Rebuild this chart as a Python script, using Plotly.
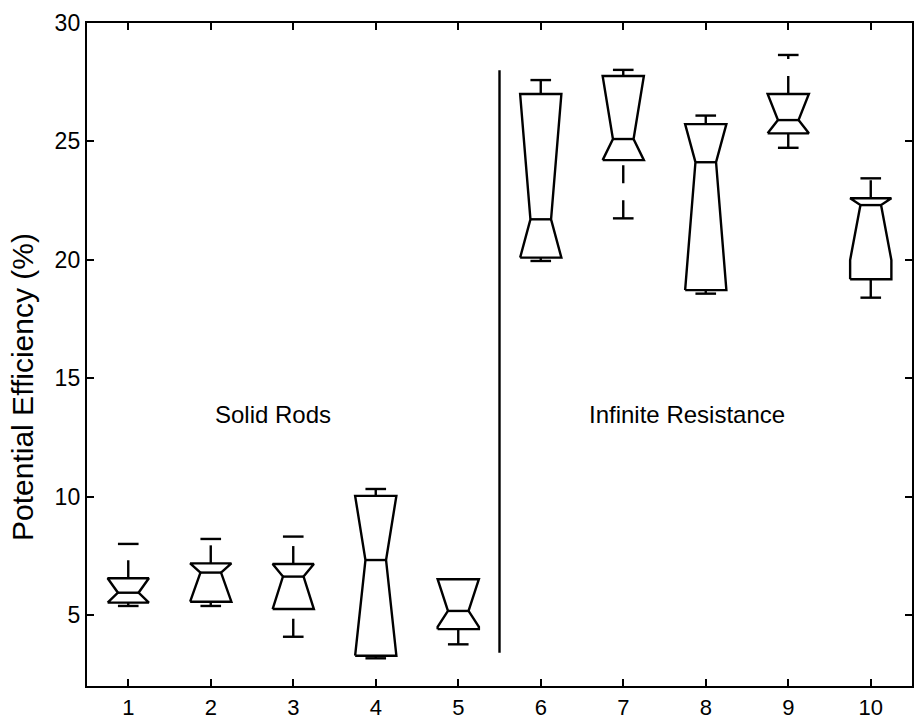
import plotly.graph_objects as go

# ---- data ----
groups = [1, 2, 3, 4, 5, 6, 7, 8, 9, 10]
q1 = [5.52, 5.56, 5.25, 3.28, 4.40, 20.09, 24.21, 18.72, 25.34, 19.18]
median = [5.94, 6.79, 6.62, 7.32, 5.17, 21.71, 25.10, 24.12, 25.90, 22.31]
q3 = [6.55, 7.18, 7.15, 10.03, 6.51, 27.00, 27.76, 25.73, 27.00, 22.60]
notch_lo = [5.52, 5.56, 5.25, 3.28, 4.50, 20.09, 24.21, 18.72, 25.34, 19.99]
notch_hi = [6.55, 7.18, 7.15, 10.03, 6.51, 27.00, 27.76, 25.73, 27.00, 22.60]
whisker_lo = [5.38, 5.38, 4.08, 3.17, 3.76, 19.95, 21.75, 18.57, 24.73, 18.40]
whisker_hi = [8.00, 8.21, 8.31, 10.32, 6.51, 27.59, 28.02, 26.09, 28.65, 23.44]
x_ticks = [1, 2, 3, 4, 5, 6, 7, 8, 9, 10]
y_ticks = [5, 10, 15, 20, 25, 30]
divider_x = 5.5
divider_y = [3.4, 28.0]
label_left = "Solid Rods"
label_right = "Infinite Resistance"
y_title = "Potential Efficiency (%)"

BOX_HW = 0.25
NOTCH_HW = 0.125
CAP_HW = 0.125
LW = 2.4
FONT = "Liberation Sans, Arial, sans-serif"

fig = go.Figure()

# boxes (notched outlines) + median lines
bx, by = [], []
for g, a, n0, m, n1, b in zip(groups, q1, notch_lo, median, notch_hi, q3):
    bx += [g - BOX_HW, g - BOX_HW, g - NOTCH_HW, g - BOX_HW, g - BOX_HW,
           g + BOX_HW, g + BOX_HW, g + NOTCH_HW, g + BOX_HW, g + BOX_HW, g - BOX_HW, None,
           g - NOTCH_HW, g + NOTCH_HW, None]
    by += [a, n0, m, n1, b, b, n1, m, n0, a, a, None, m, m, None]
fig.add_trace(go.Scatter(x=bx, y=by, mode="lines", line=dict(color="black", width=LW),
                         hoverinfo="skip", showlegend=False))

# whiskers (dashed), each drawn upward
for g, a, b, wl, wh in zip(groups, q1, q3, whisker_lo, whisker_hi):
    if wl < a:
        fig.add_trace(go.Scatter(x=[g, g], y=[wl, a], mode="lines",
                                 line=dict(color="black", width=LW, dash="18px,17px"),
                                 hoverinfo="skip", showlegend=False))
    if wh > b:
        fig.add_trace(go.Scatter(x=[g, g], y=[b, wh], mode="lines",
                                 line=dict(color="black", width=LW, dash="18px,17px"),
                                 hoverinfo="skip", showlegend=False))

# whisker caps
cx, cy = [], []
for g, a, b, wl, wh in zip(groups, q1, q3, whisker_lo, whisker_hi):
    if wl < a:
        cx += [g - CAP_HW, g + CAP_HW, None]
        cy += [wl, wl, None]
    if wh > b:
        cx += [g - CAP_HW, g + CAP_HW, None]
        cy += [wh, wh, None]
fig.add_trace(go.Scatter(x=cx, y=cy, mode="lines", line=dict(color="black", width=LW),
                         hoverinfo="skip", showlegend=False))

# divider
fig.add_trace(go.Scatter(x=[divider_x, divider_x], y=divider_y, mode="lines",
                         line=dict(color="black", width=LW), hoverinfo="skip", showlegend=False))

fig.add_annotation(x=2.75, y=13.45, text=label_left, showarrow=False,
                   font=dict(family=FONT, size=24, color="black"))
fig.add_annotation(x=7.77, y=13.45, text=label_right, showarrow=False,
                   font=dict(family=FONT, size=24, color="black"))
fig.add_annotation(x=-0.0776, y=0.451, xref="paper", yref="paper", text=y_title,
                   textangle=-90, showarrow=False, xanchor="center", yanchor="middle",
                   font=dict(family=FONT, size=30, color="black"))

axis_common = dict(showline=True, linewidth=2.4, linecolor="black", mirror="ticks",
                   ticks="inside", ticklen=7, tickwidth=2, tickcolor="black",
                   showgrid=False, zeroline=False, automargin=False)
fig.update_xaxes(range=[0.5, 10.5], tickvals=x_ticks, ticktext=[str(v) for v in x_ticks],
                 tickfont=dict(family=FONT, size=22, color="black"), **axis_common)
fig.update_yaxes(range=[2, 30], tickvals=y_ticks, ticktext=[str(v) for v in y_ticks],
                 tickfont=dict(family=FONT, size=23, color="black"), **axis_common)

fig.update_layout(width=915, height=719, margin=dict(l=87, r=3, t=23, b=33, pad=0),
                  plot_bgcolor="white", paper_bgcolor="white",
                  font=dict(family=FONT, color="black"), showlegend=False)

fig.write_html("out.html")
